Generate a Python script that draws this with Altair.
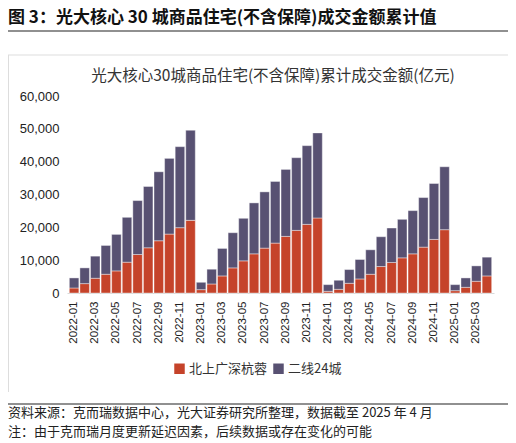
import altair as alt
import pandas as pd

months = [f"{y}-{m:02d}" for y in (2022, 2023, 2024) for m in range(1, 13)] + \
         ["2025-01", "2025-02", "2025-03", "2025-04"]

tier1 = [1530, 2860, 4490, 5710, 6730, 9380, 11730, 13770, 15910, 17950, 19890, 22130,
         1020, 2750, 5200, 7650, 9790, 11930, 13670, 15200, 17240, 19070, 20910, 22850,
         510, 1120, 2960, 4280, 5710, 8060, 9280, 10710, 11930, 13970, 16320, 19280,
         710, 1730, 3570, 5200]

tier2 = [3060, 4790, 6730, 8770, 11120, 13670, 16420, 18670, 21010, 23050, 24680, 27440,
         2240, 4490, 8370, 10710, 12960, 15510, 17130, 18770, 20400, 22140, 23970, 25910,
         2040, 2760, 4180, 5920, 7450, 9080, 10510, 11730, 13160, 15100, 17030, 19170,
         1840, 2860, 4690, 5710]

series = ["北上广深杭蓉", "二线24城"]
colors = ["#C5432A", "#585172"]
tick_labels = months[::2]
y_ticks = [0, 10000, 20000, 30000, 40000, 50000, 60000]

rows = []
for i, m in enumerate(months):
    rows.append({"month": m, "series": series[0], "value": tier1[i], "ord": 0})
    rows.append({"month": m, "series": series[1], "value": tier2[i], "ord": 1})
df = pd.DataFrame(rows)

FONT = "Liberation Sans, Noto Sans CJK SC"
CJK = "Noto Sans CJK SC"

bars = alt.Chart(df).mark_bar(stroke="white", strokeWidth=0.4).encode(
    x=alt.X("month:N", sort=months,
            scale=alt.Scale(paddingInner=0.1, paddingOuter=0.22),
            axis=alt.Axis(title=None, values=tick_labels, labelAngle=270,
                          labelFont=FONT, labelFontSize=11.5, labelColor="#222",
                          labelPadding=8, ticks=False, domainColor="#d9d9d9",
                          labelBaseline="middle", labelAlign="right")),
    y=alt.Y("value:Q", stack="zero",
            scale=alt.Scale(domain=[0, 60000], nice=False),
            axis=alt.Axis(title=None, format=",d", values=y_ticks,
                          grid=False, ticks=False, domain=False,
                          labelFont=FONT, labelFontSize=13, labelColor="#222", labelPadding=8)),
    color=alt.Color("series:N", scale=alt.Scale(domain=series, range=colors),
                    legend=alt.Legend(title=None, orient="none", legendX=106, legendY=266,
                                      direction="horizontal", symbolType="square",
                                      symbolSize=110, symbolStrokeWidth=0,
                                      labelFont=CJK, labelFontSize=13, labelColor="#333",
                                      labelOffset=3, columnPadding=4)),
    order=alt.Order("ord:Q"),
)

def txt(s, x, y, size, weight="normal", align="left", color="#222"):
    return alt.Chart(pd.DataFrame({"t": [s]})).mark_text(
        font=CJK, fontSize=size, fontWeight=weight, align=align,
        baseline="middle", color=color
    ).encode(x=alt.value(x), y=alt.value(y), text="t:N")

def rule(x1, x2, y1, y2, color, w):
    return alt.Chart(pd.DataFrame({"a": [0]})).mark_rule(color=color, strokeWidth=w).encode(
        x=alt.value(x1), x2=alt.value(x2), y=alt.value(y1), y2=alt.value(y2))

header = txt("图 3：光大核心 30 城商品住宅(不含保障)成交金额累计值", -59, -78.5, 17, "bold", color="#111")
header_line = rule(-59, 441, -65, -65, "#222", 1.2)
frame_top = rule(-59, 441, -41, -41, "#dddddd", 1)
frame_left = rule(-58.5, -58.5, -41, 296, "#dddddd", 1)
title = txt("光大核心30城商品住宅(不含保障)累计成交金额(亿元)", 206, -20, 15.5, align="center", color="#333")
footer_line = rule(-59, 441, 308, 308, "#222", 1.2)
foot1 = txt("资料来源：克而瑞数据中心，光大证券研究所整理，数据截至 2025 年 4 月", -59, 317, 13)
foot2 = txt("注：由于克而瑞月度更新延迟因素，后续数据或存在变化的可能", -59, 336, 13)

chart = alt.layer(bars, header, header_line, frame_top, frame_left, title,
                  footer_line, foot1, foot2).properties(
    width=427, height=197,
    autosize=alt.AutoSizeParams(type="none"),
    padding={"left": 59, "top": 88, "right": 14, "bottom": 150},
).configure_view(stroke=None)

chart.save("out.html", embed_options={"renderer": "svg", "actions": False})
